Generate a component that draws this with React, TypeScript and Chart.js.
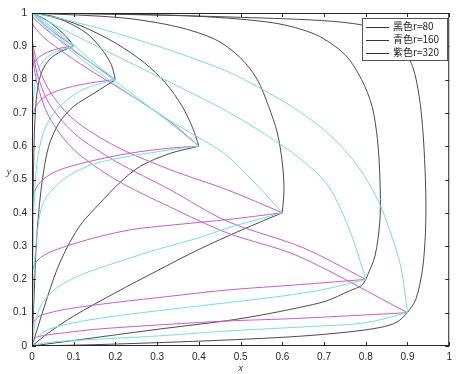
import React, { useEffect, useRef } from "react";
import { Chart, registerables } from "chart.js";

Chart.register(...registerables);

// ---------- data ----------
const tickValues = [0, 0.1, 0.2, 0.3, 0.4, 0.5, 0.6, 0.7, 0.8, 0.9, 1];
const tickLabels = ["0", "0.1", "0.2", "0.3", "0.4", "0.5", "0.6", "0.7", "0.8", "0.9", "1"];
const legendLabels = ["黑色r=80", "青色r=160", "紫色r=320"];
const xAxisLabel = "x";
const yAxisLabel = "y";

// black r=80 : paths to (0,1)
const blackTopA = [[0.1, 0.9], [0.085, 0.925], [0.06, 0.955], [0.03, 0.982], [0, 1]];
const blackTopB = [[0.2, 0.8], [0.19, 0.845], [0.165, 0.895], [0.13, 0.94], [0.08, 0.975], [0.03, 0.994], [0, 1]];
const blackTopC = [[0.4, 0.6], [0.385, 0.655], [0.36, 0.72], [0.32, 0.79], [0.27, 0.85], [0.2, 0.91], [0.12, 0.96], [0.05, 0.99], [0, 1]];
const blackTopD = [[0.6, 0.4], [0.604, 0.47], [0.6, 0.55], [0.588, 0.64], [0.567, 0.72], [0.54, 0.8], [0.5, 0.865], [0.44, 0.92], [0.35, 0.958], [0.22, 0.985], [0, 1]];
const blackTopE = [[0.8, 0.2], [0.822, 0.27], [0.834, 0.38], [0.834, 0.5], [0.828, 0.62], [0.815, 0.72], [0.79, 0.8], [0.75, 0.875], [0.68, 0.935], [0.58, 0.97], [0.4, 0.99], [0.2, 0.997], [0, 1]];
const blackTopF = [[0.9, 0.1], [0.92, 0.14], [0.936, 0.23], [0.943, 0.34], [0.944, 0.45], [0.941, 0.56], [0.936, 0.66], [0.928, 0.75], [0.912, 0.84], [0.88, 0.91], [0.82, 0.955], [0.72, 0.975], [0.5, 0.987], [0.25, 0.995], [0, 1]];
// black r=80 : paths to (0,0)
const blackBotA = [[0.1, 0.9], [0.07, 0.885], [0.043, 0.862], [0.024, 0.825], [0.013, 0.77], [0.007, 0.68], [0.004, 0.55], [0.002, 0.35], [0, 0]];
const blackBotB = [[0.2, 0.8], [0.15, 0.76], [0.1, 0.72], [0.065, 0.67], [0.04, 0.6], [0.025, 0.5], [0.016, 0.4], [0.01, 0.3], [0.005, 0.15], [0, 0]];
const blackBotC = [[0.4, 0.6], [0.33, 0.578], [0.26, 0.54], [0.21, 0.49], [0.16, 0.425], [0.12, 0.37], [0.09, 0.31], [0.06, 0.23], [0.03, 0.12], [0, 0]];
const blackBotD = [[0.6, 0.4], [0.5, 0.347], [0.4, 0.29], [0.3, 0.226], [0.2, 0.16], [0.1, 0.09], [0.04, 0.04], [0, 0]];
const blackBotE = [[0.8, 0.2], [0.79, 0.182], [0.76, 0.165], [0.705, 0.135], [0.638, 0.115], [0.55, 0.093], [0.467, 0.076], [0.3, 0.05], [0.15, 0.025], [0, 0]];
const blackBotF = [[0.9, 0.1], [0.875, 0.072], [0.836, 0.056], [0.757, 0.042], [0.638, 0.029], [0.467, 0.018], [0.3, 0.01], [0.15, 0.004], [0, 0]];

// cyan r=160 : paths to (0,1)
const cyanTopA = [[0.1, 0.9], [0.06, 0.94], [0.025, 0.975], [0, 1]];
const cyanTopB = [[0.2, 0.8], [0.14, 0.86], [0.08, 0.925], [0.03, 0.975], [0, 1]];
const cyanTopC = [[0.4, 0.6], [0.3, 0.7], [0.2, 0.795], [0.1, 0.89], [0.03, 0.965], [0, 1]];
const cyanTopD = [[0.6, 0.4], [0.543, 0.478], [0.464, 0.575], [0.38, 0.64], [0.32, 0.685], [0.2, 0.785], [0.1, 0.88], [0.03, 0.96], [0, 1]];
const cyanTopE = [[0.8, 0.2], [0.773, 0.308], [0.741, 0.408], [0.705, 0.49], [0.64, 0.565], [0.56, 0.635], [0.467, 0.705], [0.35, 0.78], [0.22, 0.86], [0.1, 0.935], [0.03, 0.98], [0, 1]];
const cyanTopF = [[0.9, 0.1], [0.884, 0.238], [0.86, 0.338], [0.829, 0.438], [0.781, 0.54], [0.717, 0.63], [0.64, 0.705], [0.546, 0.775], [0.467, 0.825], [0.35, 0.88], [0.2, 0.94], [0.08, 0.98], [0, 1]];
// cyan r=160 : paths to (0,0)
const cyanBotA = [[0.1, 0.9], [0.06, 0.885], [0.03, 0.86], [0.012, 0.82], [0.004, 0.75], [0.001, 0.6], [0, 0]];
const cyanBotB = [[0.2, 0.8], [0.122, 0.77], [0.059, 0.71], [0.027, 0.64], [0.011, 0.54], [0.004, 0.4], [0.001, 0.2], [0, 0]];
const cyanBotC = [[0.4, 0.6], [0.329, 0.589], [0.154, 0.549], [0.075, 0.5], [0.027, 0.43], [0.011, 0.32], [0.004, 0.2], [0, 0]];
const cyanBotD = [[0.6, 0.4], [0.47, 0.355], [0.4, 0.325], [0.3, 0.29], [0.2, 0.25], [0.12, 0.215], [0.06, 0.175], [0.025, 0.13], [0.008, 0.07], [0, 0]];
const cyanBotE = [[0.8, 0.2], [0.7, 0.17], [0.6, 0.15], [0.467, 0.13], [0.33, 0.11], [0.2, 0.09], [0.1, 0.07], [0.04, 0.05], [0.01, 0.025], [0, 0]];
const cyanBotF = [[0.9, 0.1], [0.8, 0.07], [0.66, 0.058], [0.467, 0.045], [0.3, 0.03], [0.15, 0.02], [0.05, 0.012], [0.01, 0.005], [0, 0]];

// magenta r=320 : paths to (0,1)
const magTopA = [[0.1, 0.9], [0.06, 0.935], [0.025, 0.97], [0, 1]];
const magTopB = [[0.2, 0.8], [0.13, 0.86], [0.07, 0.915], [0.025, 0.96], [0, 0.99], [0, 1]];
const magTopC = [[0.4, 0.6], [0.33, 0.675], [0.24, 0.75], [0.15, 0.82], [0.083, 0.875], [0.03, 0.925], [0.005, 0.96], [0, 0.98], [0, 1]];
const magTopD = [[0.6, 0.4], [0.47, 0.468], [0.33, 0.53], [0.2, 0.6], [0.1, 0.68], [0.045, 0.76], [0.015, 0.84], [0.003, 0.9], [0, 0.94], [0, 1]];
const magTopE = [[0.8, 0.2], [0.65, 0.295], [0.467, 0.375], [0.33, 0.47], [0.2, 0.555], [0.1, 0.64], [0.04, 0.73], [0.012, 0.82], [0.002, 0.89], [0, 0.93], [0, 1]];
const magTopF = [[0.9, 0.1], [0.638, 0.27], [0.467, 0.34], [0.33, 0.418], [0.2, 0.5], [0.1, 0.59], [0.04, 0.69], [0.012, 0.79], [0.002, 0.87], [0, 0.92], [0, 1]];
// magenta r=320 : paths to (0,0)
const magBotA = [[0.1, 0.9], [0.07, 0.895], [0.043, 0.885], [0.02, 0.87], [0.005, 0.85], [0, 0.82], [0, 0]];
const magBotB = [[0.2, 0.8], [0.14, 0.79], [0.083, 0.775], [0.04, 0.755], [0.015, 0.73], [0.003, 0.7], [0, 0.66], [0, 0]];
const magBotC = [[0.4, 0.6], [0.329, 0.594], [0.24, 0.58], [0.154, 0.559], [0.08, 0.535], [0.043, 0.515], [0.015, 0.485], [0.003, 0.45], [0, 0.42], [0, 0]];
const magBotD = [[0.6, 0.4], [0.471, 0.38], [0.35, 0.365], [0.241, 0.35], [0.15, 0.325], [0.083, 0.3], [0.04, 0.28], [0.015, 0.26], [0.003, 0.235], [0, 0.2], [0, 0]];
const magBotE = [[0.8, 0.2], [0.638, 0.184], [0.467, 0.168], [0.3, 0.145], [0.162, 0.125], [0.08, 0.11], [0.043, 0.1], [0.015, 0.088], [0.003, 0.07], [0, 0.05], [0, 0]];
const magBotF = [[0.9, 0.1], [0.638, 0.083], [0.467, 0.075], [0.3, 0.063], [0.15, 0.05], [0.08, 0.04], [0.03, 0.032], [0.008, 0.025], [0, 0.015], [0, 0]];

const blackCurves = [blackTopA, blackTopB, blackTopC, blackTopD, blackTopE, blackTopF, blackBotA, blackBotB, blackBotC, blackBotD, blackBotE, blackBotF];
const cyanCurves = [cyanTopA, cyanTopB, cyanTopC, cyanTopD, cyanTopE, cyanTopF, cyanBotA, cyanBotB, cyanBotC, cyanBotD, cyanBotE, cyanBotF];
const magentaCurves = [magTopA, magTopB, magTopC, magTopD, magTopE, magTopF, magBotA, magBotB, magBotC, magBotD, magBotE, magBotF];

// ---------- styles ----------
const BLACK = "#4a4a4a";
const CYAN = "#79dcdc";
const MAGENTA = "#c45ec9";
const AXIS = "#262626";

function makeSet(curve: number[][], color: string) {
  return {
    data: curve.map((p) => ({ x: p[0], y: p[1] })),
    borderColor: color,
    backgroundColor: color,
    borderWidth: 1,
    pointRadius: 0,
    showLine: true,
    fill: false,
    tension: 0.3,
  };
}

const framePlugin = {
  id: "frame",
  afterDatasetsDraw(chart: any) {
    const { ctx, chartArea, scales } = chart;
    const { left, right, top, bottom } = chartArea;
    ctx.save();
    ctx.strokeStyle = AXIS;
    ctx.lineWidth = 1;
    ctx.strokeRect(left + 0.5, top + 0.5, right - left - 1, bottom - top - 1);
    ctx.beginPath();
    const tl = 4;
    tickValues.forEach((v) => {
      const px = Math.round(scales.x.getPixelForValue(v)) + 0.5;
      ctx.moveTo(px, bottom);
      ctx.lineTo(px, bottom - tl);
      ctx.moveTo(px, top);
      ctx.lineTo(px, top + tl);
      const py = Math.round(scales.y.getPixelForValue(v)) + 0.5;
      ctx.moveTo(left, py);
      ctx.lineTo(left + tl, py);
      ctx.moveTo(right, py);
      ctx.lineTo(right - tl, py);
    });
    ctx.stroke();

    // legend
    const lx = 362, ly = 18, lw = 85, lh = 42;
    ctx.fillStyle = "#ffffff";
    ctx.fillRect(lx, ly, lw, lh);
    ctx.strokeStyle = "#555555";
    ctx.lineWidth = 1;
    ctx.strokeRect(lx + 0.5, ly + 0.5, lw, lh);
    ctx.font = '10px "Noto Sans CJK SC", "Liberation Sans", sans-serif';
    ctx.textBaseline = "middle";
    ctx.textAlign = "left";
    legendLabels.forEach((t, i) => {
      const yy = ly + 8.5 + i * 13;
      ctx.strokeStyle = "#333333";
      ctx.beginPath();
      ctx.moveTo(366, Math.round(yy) + 0.5);
      ctx.lineTo(389, Math.round(yy) + 0.5);
      ctx.stroke();
      ctx.fillStyle = "#222222";
      ctx.fillText(t, 393, yy);
    });

    // axis labels
    ctx.fillStyle = "#333333";
    ctx.font = 'italic 11px "Liberation Serif", "DejaVu Serif", serif';
    ctx.textAlign = "center";
    ctx.fillText(xAxisLabel, (left + right) / 2, 368);
    ctx.fillText(yAxisLabel, 9, 172);
    ctx.restore();
  },
};

export default function App() {
  const ref = useRef<HTMLCanvasElement | null>(null);
  useEffect(() => {
    if (!ref.current) return;
    const datasets = [
      ...cyanCurves.map((c) => makeSet(c, CYAN)),
      ...magentaCurves.map((c) => makeSet(c, MAGENTA)),
      ...blackCurves.map((c) => makeSet(c, BLACK)),
    ];
    const tickFont = { family: '"Liberation Sans", Arial, sans-serif', size: 10 };
    const chart = new Chart(ref.current, {
      type: "scatter",
      data: { datasets } as any,
      options: {
        animation: false,
        responsive: false,
        devicePixelRatio: 1,
        layout: { padding: { left: 0, top: 13, right: 5, bottom: 0 } },
        plugins: { legend: { display: false }, tooltip: { enabled: false } },
        scales: {
          x: {
            type: "linear",
            min: 0,
            max: 1,
            grid: { display: false, drawTicks: false },
            border: { display: false },
            afterBuildTicks: (s: any) => {
              s.ticks = tickValues.map((v) => ({ value: v }));
            },
            afterFit: (s: any) => {
              s.height = 28;
            },
            ticks: {
              autoSkip: false,
              maxRotation: 0,
              padding: 5,
              color: AXIS,
              font: tickFont,
              callback: (_v: any, i: number) => tickLabels[i],
            },
          },
          y: {
            type: "linear",
            min: 0,
            max: 1,
            grid: { display: false, drawTicks: false },
            border: { display: false },
            afterBuildTicks: (s: any) => {
              s.ticks = tickValues.map((v) => ({ value: v }));
            },
            afterFit: (s: any) => {
              s.width = 32;
            },
            ticks: {
              autoSkip: false,
              padding: 5,
              color: AXIS,
              font: tickFont,
              callback: (_v: any, i: number) => tickLabels[i],
            },
          },
        },
      } as any,
      plugins: [framePlugin],
    });
    return () => chart.destroy();
  }, []);
  return (
    <div style={{ position: "fixed", left: 0, top: 0, width: 457, height: 374, background: "#fff" }}>
      <canvas ref={ref} width={457} height={374} style={{ width: 457, height: 374, display: "block" }} />
    </div>
  );
}
